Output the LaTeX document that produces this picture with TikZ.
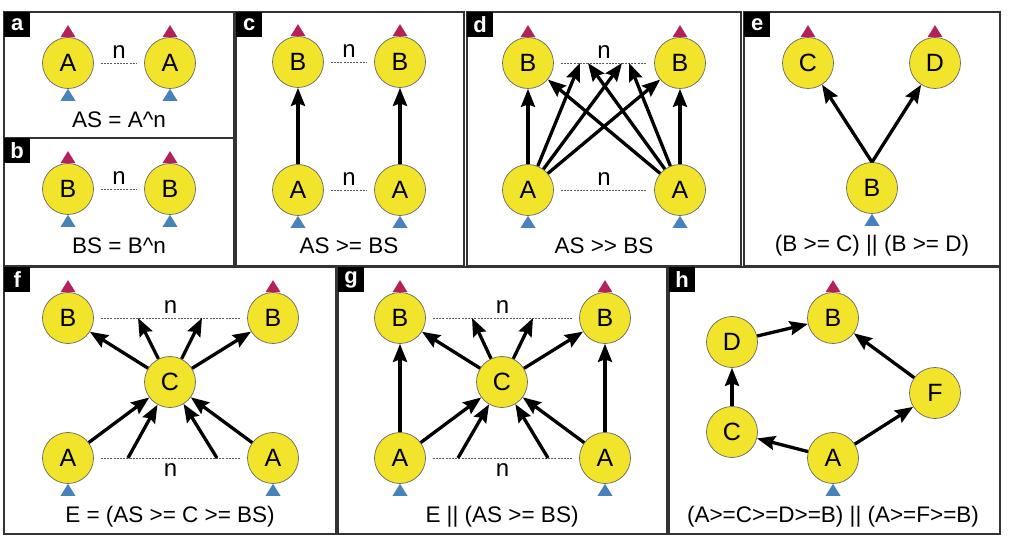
\documentclass[tikz,border=0pt]{standalone}
\usepackage{fontspec}
\setmainfont{Liberation Sans}
\usetikzlibrary{arrows.meta}
\definecolor{unityellow}{RGB}{241,228,42}
\definecolor{outred}{RGB}{180,32,92}
\definecolor{inblue}{RGB}{72,130,188}

\begin{document}
\begin{tikzpicture}[x=1pt,y=-1pt,
  unit/.style={circle,draw=gray!80!black,line width=0.7pt,fill=unityellow,minimum size=51pt,inner sep=0pt,font=\fontsize{25}{25}\selectfont},
  flow/.style={-{Stealth[length=18pt,width=14pt,inset=2.5pt]},line width=3.3pt},
  ring/.style={gray!70!black,line width=0.8pt,dash pattern=on 2pt off 1.2pt,shorten <=7pt,shorten >=7pt},
  panel/.style={draw=black!80,line width=1.2pt},
  tag/.style={fill=black,text=white,font=\fontsize{22}{22}\selectfont\bfseries,minimum width=26pt,minimum height=25pt,inner sep=0pt,anchor=north west},
  caption/.style={font=\fontsize{22.5}{22.5}\selectfont},
  count/.style={font=\fontsize{24}{24}\selectfont,inner sep=0pt,text=black},
  outtri/.pic={\fill[outred] (-7.5,0) -- (7.5,0) -- (0,-12) -- cycle;},
  intri/.pic={\fill[inblue] (-7.5,12) -- (7.5,12) -- (0,0) -- cycle;}]
  \useasboundingbox (0,0) rectangle (1010,545);

  % panels
  \draw[panel] (4,12) rectangle (234,138);
  \draw[panel] (4,138) rectangle (234,266);
  \draw[panel] (236,12) rectangle (464,266);
  \draw[panel] (467,12) rectangle (741,266);
  \draw[panel] (744,12) rectangle (1000,266);
  \draw[panel] (4,267) rectangle (336,534);
  \draw[panel] (338,267) rectangle (667,534);
  \draw[panel] (669,267) rectangle (1000,534);
  \node[tag] (taga) at (4,12) {a};
  \node[tag] (tagb) at (4,138) {b};
  \node[tag] (tagc) at (236,12) {c};
  \node[tag] (tagd) at (467,12) {d};
  \node[tag] (tage) at (744,12) {e};
  \node[tag] (tagf) at (4,267) {f};
  \node[tag] (tagg) at (338,267) {g};
  \node[tag] (tagh) at (669,267) {h};

  % a
  \node[unit] (a1) at (68,63) {A};
  \node[unit] (a2) at (170,63) {A};
  \draw[ring] (a1) -- node[count,above=4pt] (na) {n} (a2);
  \node[caption] (capa) at (119,120) {AS = A\textasciicircum n};

  % b
  \node[unit] (b1) at (68,189) {B};
  \node[unit] (b2) at (170,189) {B};
  \draw[ring] (b1) -- node[count,above=4pt] (nb) {n} (b2);
  \node[caption] (capb) at (119,246) {BS = B\textasciicircum n};

  % c
  \node[unit] (cB1) at (298,62) {B};
  \node[unit] (cB2) at (400,62) {B};
  \node[unit] (cA1) at (298,190) {A};
  \node[unit] (cA2) at (400,190) {A};
  \draw[ring] (cB1) -- node[count,above=4pt] (nc1) {n} (cB2);
  \draw[ring] (cA1) -- node[count,above=4pt] (nc2) {n} (cA2);
  \draw[flow] (cA1) -- (cB1);
  \draw[flow] (cA2) -- (cB2);
  \node[caption] (capc) at (349,246) {AS >= BS};

  % d
  \node[unit] (dB1) at (528,63) {B};
  \node[unit] (dB2) at (680,63) {B};
  \node[unit] (dA1) at (528,190) {A};
  \node[unit] (dA2) at (680,190) {A};
  \draw[ring] (dB1) -- node[count,above=4pt] (nd1) {n} (dB2);
  \draw[ring] (dA1) -- node[count,above=4pt] (nd2) {n} (dA2);
  \coordinate (d1) at (580,63);
  \coordinate (d2) at (588,63);
  \coordinate (d3) at (622,63);
  \coordinate (d4) at (629,63);
  \foreach \t in {dB1,d1,d3,dB2}
    \draw[flow] (dA1) -- (\t);
  \foreach \t in {dB2,d2,d4,dB1}
    \draw[flow] (dA2) -- (\t);
  \node[caption] (capd) at (604,246) {AS >{}> BS};

  % e
  \node[unit] (eC) at (808,63) {C};
  \node[unit] (eD) at (935,63) {D};
  \node[unit] (eB) at (872,188) {B};
  \draw[flow] (eB.north) -- (eC);
  \draw[flow] (eB.north) -- (eD);
  \node[caption] (cape) at (872,246) {(B >= C) || (B >= D)};

  % f
  \node[unit] (fB1) at (68,318) {B};
  \node[unit] (fB2) at (273,318) {B};
  \node[unit] (fC) at (170,382) {C};
  \node[unit] (fA1) at (68,458) {A};
  \node[unit] (fA2) at (273,458) {A};
  \draw[ring] (fB1) -- node[count,above=4pt] (nf1) {n} (fB2);
  \draw[ring] (fA1) -- node[count,below=5pt] (nf2) {n} (fA2);
  \coordinate (f1) at (138,318);
  \coordinate (f2) at (202,318);
  \coordinate (f3) at (128,458);
  \coordinate (f4) at (217,458);
  \foreach \t in {fB1,f1,f2,fB2}
    \draw[flow] (fC) -- (\t);
  \foreach \s in {fA1,f3,f4,fA2}
    \draw[flow] (\s) -- (fC);
  \node[caption] (capf) at (170,517) {E = (AS >= C >= BS)};

  % g
  \node[unit] (gB1) at (400,318) {B};
  \node[unit] (gB2) at (605,318) {B};
  \node[unit] (gC) at (502,382) {C};
  \node[unit] (gA1) at (400,458) {A};
  \node[unit] (gA2) at (605,458) {A};
  \draw[ring] (gB1) -- node[count,above=4pt] (ng1) {n} (gB2);
  \draw[ring] (gA1) -- node[count,below=5pt] (ng2) {n} (gA2);
  \coordinate (g1) at (472,318);
  \coordinate (g2) at (533,318);
  \coordinate (g3) at (458,458);
  \coordinate (g4) at (548,458);
  \foreach \t in {gB1,g1,g2,gB2}
    \draw[flow] (gC) -- (\t);
  \foreach \s in {gA1,g3,g4,gA2}
    \draw[flow] (\s) -- (gC);
  \draw[flow] (gA1) -- (gB1);
  \draw[flow] (gA2) -- (gB2);
  \node[caption] (capg) at (502,517) {E || (AS >= BS)};

  % h
  \node[unit] (hB) at (833,318) {B};
  \node[unit] (hD) at (732,342) {D};
  \node[unit] (hC) at (732,432) {C};
  \node[unit] (hA) at (833,458) {A};
  \node[unit] (hF) at (935,393) {F};
  \draw[flow] (hA) -- (hC);
  \draw[flow] (hC) -- (hD);
  \draw[flow] (hD) -- (hB);
  \draw[flow] (hA) -- (hF);
  \draw[flow] (hF) -- (hB);
  \node[caption] (caph) at (833,517) {(A>=C>=D>=B) || (A>=F>=B)};

  % input / output marks
  \foreach \u in {a1,a2,b1,b2,cB1,cB2,dB1,dB2,eC,eD,fB1,fB2,gB1,gB2,hB}
    \pic at (\u.north) {outtri};
  \foreach \u in {a1,a2,b1,b2,cA1,cA2,dA1,dA2,eB,fA1,fA2,gA1,gA2,hA}
    \pic at (\u.south) {intri};
\end{tikzpicture}
\end{document}
